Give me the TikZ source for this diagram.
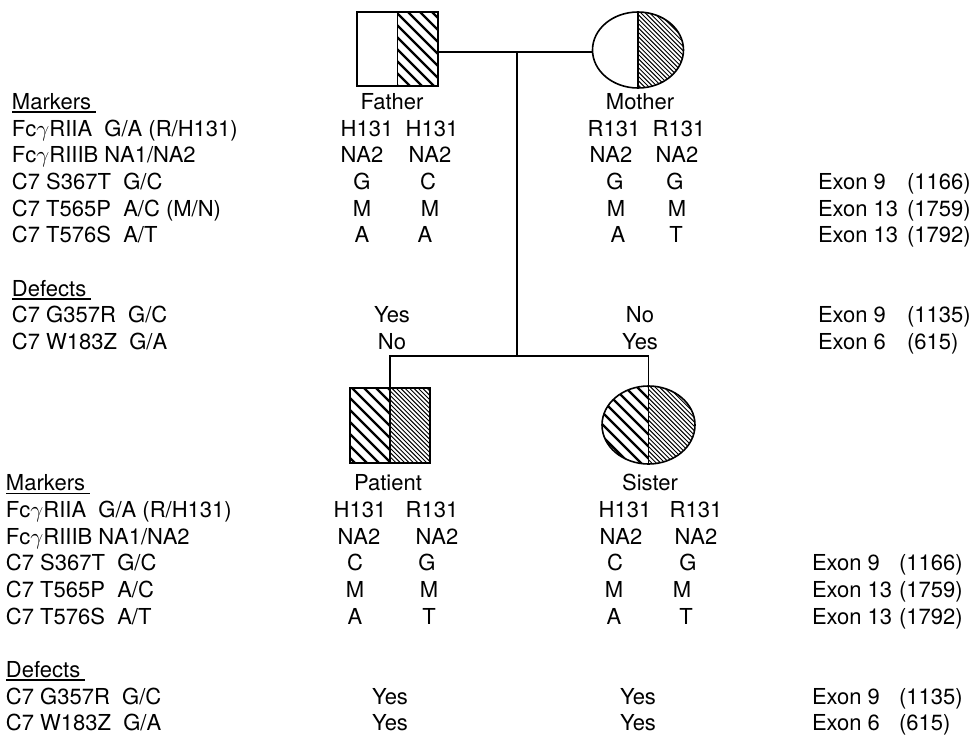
\documentclass[tikz,border=0pt]{standalone}
\usepackage{fontspec}
\setmainfont{TeX Gyre Heros}
\usetikzlibrary{shapes.geometric}
\begin{document}
\begin{tikzpicture}[x=0.75pt,y=-0.75pt,
  txt/.style={font=\fontsize{16.5}{19}\selectfont, inner sep=0pt, outer sep=0pt, anchor=base},
  lbl/.style={txt, anchor=base west},
  outl/.style={line width=1.2pt},
  link/.style={line width=1.3pt},
  thickhatch/.style={line width=1.8pt},
  finehatch/.style={line width=0.7pt},
  uline/.style={line width=1pt}]
\useasboundingbox (0,0) rectangle (971,735);

% ---------- symbols ----------
\node[draw=none, minimum width=60.75pt, minimum height=55.5pt, inner sep=0pt, outer sep=0pt] (father) at (397.5,49) {};
\node[ellipse, draw=none, minimum width=68.25pt, minimum height=57pt, inner sep=0pt, outer sep=0pt] (mother) at (638,50) {};
\node[draw=none, minimum width=60pt, minimum height=56.25pt, inner sep=0pt, outer sep=0pt] (patient) at (390,425.5) {};
\node[ellipse, draw=none, minimum width=69.75pt, minimum height=58.5pt, inner sep=0pt, outer sep=0pt] (sister) at (648.5,425) {};

% father hatching (thick, right half)
\begin{scope}
  \clip (father.north) rectangle (father.south east);
  \foreach \xx in {300,312,...,444} \draw[thickhatch] (\xx,0) -- ++(120,120);
\end{scope}
% mother hatching (fine, right half)
\begin{scope}
  \clip (mother.center) ellipse [x radius=45.5, y radius=38];
  \clip (mother.north) rectangle (700,100);
  \foreach \xx in {540,544.4,...,680} \draw[finehatch] (\xx,0) -- ++(100,100);
\end{scope}
% patient hatching
\begin{scope}
  \clip (patient.north west) rectangle (patient.south);
  \foreach \xx in {260,272,...,390} \draw[thickhatch] (\xx,380) -- ++(100,100);
\end{scope}
\begin{scope}
  \clip (patient.north) rectangle (patient.south east);
  \foreach \xx in {300,304.4,...,430} \draw[finehatch] (\xx,380) -- ++(100,100);
\end{scope}
% sister hatching
\begin{scope}
  \clip (sister.center) ellipse [x radius=46.5, y radius=39];
  \clip (590,370) rectangle (sister.south);
  \foreach \xx in {510,522,...,650} \draw[thickhatch] (\xx,380) -- ++(100,100);
\end{scope}
\begin{scope}
  \clip (sister.center) ellipse [x radius=46.5, y radius=39];
  \clip (sister.north) rectangle (710,480);
  \foreach \xx in {560,564.4,...,695} \draw[finehatch] (\xx,380) -- ++(100,100);
\end{scope}

% outlines
\draw[outl] (father.north west) rectangle (father.south east);
\draw[outl] (father.north) -- (father.south);
\draw[outl] (mother.center) ellipse [x radius=45.5, y radius=38];
\draw[outl] (mother.north) -- (mother.south);
\draw[outl] (patient.north west) rectangle (patient.south east);
\draw[outl] (patient.north) -- (patient.south);
\draw[outl] (sister.center) ellipse [x radius=46.5, y radius=39];
\draw[outl] (sister.north) -- (sister.south);

% connectors
\coordinate (mj) at (517,52);
\coordinate (sj) at (517,356);
\draw[link] (father.east |- mj) -- (mother.west |- mj);
\draw[link] (mj) -- (sj);
\draw[link] (patient.north) |- (sj) -| (sister.north);

% ---------- upper table ----------
\node[lbl] (mk1) at (12,109.5) {Markers};
\draw[uline] ([yshift=-2pt]mk1.base west) -- ([xshift=3.5pt,yshift=-2pt]mk1.base east);
\node[lbl] (ua1) at (12,136.2) {Fc$\gamma$RIIA\ \ G/A (R/H131)};
\node[lbl] (ua2) at (12,162.8) {Fc$\gamma$RIIIB NA1/NA2};
\node[lbl] (ua3) at (12,189.5) {C7 S367T\ \ G/C};
\node[lbl] (ua4) at (12,216.2) {C7 T565P\ \ A/C (M/N)};
\node[lbl] (ua5) at (12,242.8) {C7 T576S\ \ A/T};
\node[lbl] (df1) at (12,296.2) {Defects};
\draw[uline] ([yshift=-2pt]df1.base west) -- ([xshift=3.5pt,yshift=-2pt]df1.base east);
\node[lbl] (ua6) at (12,322.8) {C7 G357R\ \ G/C};
\node[lbl] (ua7) at (12,349.5) {C7 W183Z\ \ G/A};

\node[txt] (fl) at (392,109.5) {Father};
\node[txt] (f1a) at (367,136.2) {H131};
\node[txt] (f1b) at (432,136.2) {H131};
\node[txt] (f2a) at (362,162.8) {NA2};
\node[txt] (f2b) at (430,162.8) {NA2};
\node[txt] (f3a) at (362,189.5) {G};
\node[txt] (f3b) at (428,189.5) {C};
\node[txt] (f4a) at (362,216.2) {M};
\node[txt] (f4b) at (430,216.2) {M};
\node[txt] (f5a) at (362,242.8) {A};
\node[txt] (f5b) at (425,242.8) {A};
\node[txt] (f6) at (392,322.8) {Yes};
\node[txt] (f7) at (392,349.5) {No};

\node[txt] (ml) at (640,109.5) {Mother};
\node[txt] (m1a) at (614,136.2) {R131};
\node[txt] (m1b) at (679,136.2) {R131};
\node[txt] (m2a) at (611,162.8) {NA2};
\node[txt] (m2b) at (677,162.8) {NA2};
\node[txt] (m3a) at (615,189.5) {G};
\node[txt] (m3b) at (675,189.5) {G};
\node[txt] (m4a) at (616,216.2) {M};
\node[txt] (m4b) at (677,216.2) {M};
\node[txt] (m5a) at (618,242.8) {A};
\node[txt] (m5b) at (676,242.8) {T};
\node[txt] (m6) at (640,322.8) {No};
\node[txt] (m7) at (640,349.5) {Yes};

\node[lbl] (ue1a) at (818,189.5) {Exon 9};
\node[lbl] (ue1b) at (907,189.5) {(1166)};
\node[lbl] (ue2a) at (818,216.2) {Exon 13};
\node[lbl] (ue2b) at (907,216.2) {(1759)};
\node[lbl] (ue3a) at (818,242.8) {Exon 13};
\node[lbl] (ue3b) at (907,242.8) {(1792)};
\node[lbl] (ue4a) at (818,322.8) {Exon 9};
\node[lbl] (ue4b) at (907,322.8) {(1135)};
\node[lbl] (ue5a) at (818,349.5) {Exon 6};
\node[lbl] (ue5b) at (907,349.5) {(615)};

% ---------- lower table ----------
\node[lbl] (mk2) at (6,490.7) {Markers};
\draw[uline] ([yshift=-2pt]mk2.base west) -- ([xshift=3.5pt,yshift=-2pt]mk2.base east);
\node[lbl] (la1) at (6,517.3) {Fc$\gamma$RIIA\ \ G/A (R/H131)};
\node[lbl] (la2) at (6,544.0) {Fc$\gamma$RIIIB NA1/NA2};
\node[lbl] (la3) at (6,570.7) {C7 S367T\ \ G/C};
\node[lbl] (la4) at (6,597.3) {C7 T565P\ \ A/C};
\node[lbl] (la5) at (6,624.0) {C7 T576S\ \ A/T};
\node[lbl] (df2) at (6,677.3) {Defects};
\draw[uline] ([yshift=-2pt]df2.base west) -- ([xshift=3.5pt,yshift=-2pt]df2.base east);
\node[lbl] (la6) at (6,704.0) {C7 G357R\ \ G/C};
\node[lbl] (la7) at (6,730.7) {C7 W183Z\ \ G/A};

\node[txt] (pl) at (388,490.7) {Patient};
\node[txt] (p1a) at (360,517.3) {H131};
\node[txt] (p1b) at (432,517.3) {R131};
\node[txt] (p2a) at (359,544.0) {NA2};
\node[txt] (p2b) at (437,544.0) {NA2};
\node[txt] (p3a) at (355,570.7) {C};
\node[txt] (p3b) at (427,570.7) {G};
\node[txt] (p4a) at (355,597.3) {M};
\node[txt] (p4b) at (429,597.3) {M};
\node[txt] (p5a) at (355,624.0) {A};
\node[txt] (p5b) at (429,624.0) {T};
\node[txt] (p6) at (390,704.0) {Yes};
\node[txt] (p7) at (390,730.7) {Yes};

\node[txt] (sl) at (650,490.7) {Sister};
\node[txt] (s1a) at (625,517.3) {H131};
\node[txt] (s1b) at (696,517.3) {R131};
\node[txt] (s2a) at (621,544.0) {NA2};
\node[txt] (s2b) at (696,544.0) {NA2};
\node[txt] (s3a) at (615,570.7) {C};
\node[txt] (s3b) at (688,570.7) {G};
\node[txt] (s4a) at (614,597.3) {M};
\node[txt] (s4b) at (682,597.3) {M};
\node[txt] (s5a) at (614,624.0) {A};
\node[txt] (s5b) at (686,624.0) {T};
\node[txt] (s6) at (638,704.0) {Yes};
\node[txt] (s7) at (638,730.7) {Yes};

\node[lbl] (le1a) at (812,570.7) {Exon 9};
\node[lbl] (le1b) at (899,570.7) {(1166)};
\node[lbl] (le2a) at (812,597.3) {Exon 13};
\node[lbl] (le2b) at (899,597.3) {(1759)};
\node[lbl] (le3a) at (812,624.0) {Exon 13};
\node[lbl] (le3b) at (899,624.0) {(1792)};
\node[lbl] (le4a) at (812,704.0) {Exon 9};
\node[lbl] (le4b) at (899,704.0) {(1135)};
\node[lbl] (le5a) at (812,730.7) {Exon 6};
\node[lbl] (le5b) at (899,730.7) {(615)};
\end{tikzpicture}
\end{document}
